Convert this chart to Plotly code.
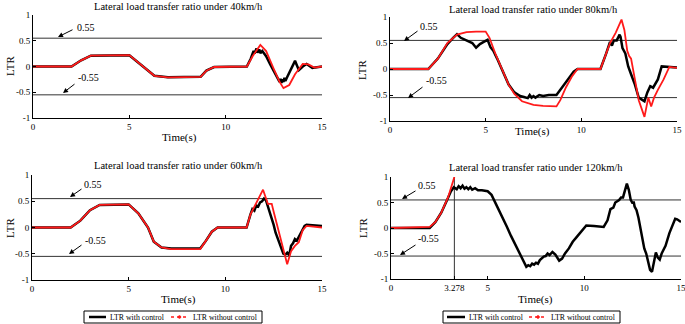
import plotly.graph_objects as go

# ---------------- data ----------------
t_red_40 = [0, 2.0, 2.5, 3.0, 5.0, 5.7, 6.3, 7.0, 8.7, 9.0, 9.4, 11.1, 11.4, 11.8, 12.1, 12.5, 12.8, 13.0, 13.3, 13.6, 14.0, 14.3, 14.6, 15]
v_red_40 = [0, 0, 0.12, 0.21, 0.22, 0.0, -0.18, -0.21, -0.2, -0.08, -0.01, 0, 0.2, 0.42, 0.3, -0.05, -0.3, -0.42, -0.36, -0.15, 0.05, 0.04, -0.02, 0]
t_blk_40 = [0, 2.0, 2.5, 3.0, 5.0, 5.7, 6.3, 7.0, 8.7, 9.0, 9.4, 11.1, 11.3, 11.45, 11.5, 11.6, 11.65, 11.75, 11.8, 11.9, 12.0, 12.1, 12.3, 12.5, 12.7, 12.8, 12.85, 12.9, 12.95, 13.0, 13.05, 13.1, 13.2, 13.4, 13.6, 13.7, 13.8, 14.0, 14.2, 14.5, 15]
v_blk_40 = [0, 0, 0.12, 0.21, 0.22, 0.0, -0.18, -0.21, -0.2, -0.08, -0.01, 0, 0.15, 0.3, 0.25, 0.35, 0.27, 0.33, 0.26, 0.3, 0.24, 0.2, 0.05, -0.1, -0.22, -0.3, -0.24, -0.32, -0.25, -0.3, -0.22, -0.28, -0.2, -0.05, 0.11, 0.02, -0.07, 0.0, 0.05, -0.03, 0]

t_red_80 = [0, 2.0, 2.5, 3.0, 3.5, 4.0, 4.5, 5.0, 5.2, 5.5, 5.85, 6.2, 6.5, 6.9, 7.5, 8.0, 8.7, 8.9, 9.2, 9.5, 9.8, 11.0, 11.3, 11.5, 11.8, 12.1, 12.25, 12.4, 12.5, 12.6, 12.8, 13.0, 13.3, 13.5, 13.65, 13.8, 14.0, 14.3, 14.6, 15]
v_red_80 = [0, 0, 0.2, 0.5, 0.66, 0.71, 0.72, 0.72, 0.6, 0.3, 0.0, -0.3, -0.48, -0.62, -0.69, -0.71, -0.72, -0.6, -0.35, -0.15, 0.0, 0.0, 0.3, 0.5, 0.7, 0.95, 0.75, 0.35, 0.25, 0.2, -0.2, -0.6, -0.92, -0.55, -0.72, -0.55, -0.4, -0.2, 0.04, 0.02]
t_blk_80 = [0, 2.0, 2.5, 3.0, 3.3, 3.5, 3.7, 4.0, 4.3, 4.5, 4.7, 4.9, 5.1, 5.25, 5.4, 5.6, 5.85, 6.2, 6.5, 6.8, 7.0, 7.2, 7.3, 7.4, 7.5, 7.6, 7.8, 8.0, 8.3, 8.7, 9.0, 9.3, 9.6, 9.8, 11.0, 11.3, 11.5, 11.6, 11.7, 11.85, 12.0, 12.05, 12.15, 12.3, 12.45, 12.6, 12.8, 13.0, 13.3, 13.45, 13.6, 13.75, 13.85, 14.0, 14.2, 15]
v_blk_80 = [0, 0, 0.2, 0.48, 0.6, 0.67, 0.6, 0.55, 0.5, 0.41, 0.48, 0.52, 0.56, 0.42, 0.35, 0.2, 0.0, -0.3, -0.45, -0.52, -0.54, -0.56, -0.5, -0.55, -0.52, -0.55, -0.5, -0.52, -0.5, -0.5, -0.35, -0.2, -0.05, 0.0, 0.0, 0.3, 0.52, 0.45, 0.55, 0.55, 0.66, 0.62, 0.4, 0.3, 0.05, -0.1, -0.3, -0.55, -0.62, -0.45, -0.33, -0.36, -0.3, -0.2, 0.05, 0.03]

t_red_60 = [0, 2.0, 2.5, 3.0, 3.5, 5.0, 5.5, 6.0, 6.3, 6.7, 7.2, 8.7, 9.0, 9.3, 9.6, 11.1, 11.3, 11.5, 11.7, 11.95, 12.2, 12.4, 12.5, 12.7, 13.0, 13.2, 13.4, 13.6, 13.8, 14.0, 14.2, 15]
v_red_60 = [0, 0, 0.13, 0.33, 0.43, 0.44, 0.27, 0.0, -0.27, -0.38, -0.41, -0.41, -0.25, -0.08, 0.0, 0, 0.25, 0.4, 0.52, 0.72, 0.45, 0.45, 0.3, 0.0, -0.45, -0.7, -0.45, -0.35, -0.28, -0.05, 0.03, 0.0]
t_blk_60 = [0, 2.0, 2.5, 3.0, 3.5, 5.0, 5.5, 6.0, 6.3, 6.7, 7.2, 8.7, 9.0, 9.3, 9.6, 11.1, 11.3, 11.4, 11.5, 11.6, 11.7, 11.8, 11.9, 12.0, 12.1, 12.2, 12.35, 12.5, 12.6, 12.8, 13.0, 13.1, 13.2, 13.3, 13.4, 13.5, 13.6, 13.7, 13.9, 14.1, 14.2, 15]
v_blk_60 = [0, 0, 0.13, 0.33, 0.43, 0.44, 0.27, 0.0, -0.27, -0.38, -0.4, -0.4, -0.25, -0.08, 0.0, 0, 0.25, 0.35, 0.32, 0.42, 0.4, 0.48, 0.5, 0.55, 0.52, 0.4, 0.25, 0.05, -0.1, -0.3, -0.5, -0.52, -0.48, -0.53, -0.35, -0.3, -0.22, -0.25, -0.1, 0.03, 0.05, 0.03]

t_red_120 = [0, 2.0, 2.3, 2.6, 2.95, 3.278]
v_red_120 = [0, 0.02, 0.12, 0.3, 0.6, 1.0]
t_blk_120 = [0, 2.0, 2.3, 2.6, 2.9, 3.1, 3.25, 3.4, 3.5, 3.6, 3.7, 3.8, 3.9, 4.0, 4.1, 4.2, 4.35, 4.5, 4.7, 5.0, 5.2, 5.4, 5.6, 5.8, 6.0, 6.2, 6.4, 6.6, 6.8, 6.9, 7.0, 7.1, 7.2, 7.3, 7.4, 7.5, 7.6, 7.7, 7.8, 7.9, 8.0, 8.1, 8.2, 8.35, 8.5, 8.7, 8.85, 9.0, 9.2, 9.4, 9.6, 9.8, 10.0, 10.1, 10.5, 11.0, 11.2, 11.35, 11.5, 11.6, 11.8, 11.9, 12.0, 12.2, 12.3, 12.4, 12.5, 12.55, 12.6, 12.7, 12.8, 12.9, 13.0, 13.1, 13.2, 13.3, 13.4, 13.5, 13.6, 13.7, 13.8, 13.9, 14.0, 14.2, 14.4, 14.6, 14.7, 14.8, 15]
v_blk_120 = [0, 0, 0.12, 0.3, 0.55, 0.72, 0.8, 0.76, 0.82, 0.78, 0.83, 0.77, 0.8, 0.76, 0.8, 0.75, 0.78, 0.74, 0.74, 0.72, 0.65, 0.5, 0.35, 0.2, 0.02, -0.15, -0.3, -0.45, -0.6, -0.7, -0.76, -0.73, -0.75, -0.7, -0.72, -0.68, -0.7, -0.63, -0.6, -0.56, -0.55, -0.5, -0.53, -0.47, -0.52, -0.64, -0.6, -0.5, -0.4, -0.27, -0.18, -0.08, 0.02, 0.05, 0.04, 0.02, 0.15, 0.37, 0.4, 0.5, 0.55, 0.6, 0.6, 0.87, 0.75, 0.55, 0.48, 0.52, 0.42, 0.35, 0.2, 0.0, -0.2, -0.4, -0.5, -0.65, -0.82, -0.86, -0.7, -0.48, -0.58, -0.62, -0.5, -0.35, -0.1, 0.1, 0.18, 0.17, 0.12, 0.0]

titles = ["Lateral load transfer ratio under 40km/h", "Lateral load transfer ratio under 80km/h",
          "Lateral load transfer ratio under 60km/h", "Lateral load transfer ratio under 120km/h"]
legend_names = ["LTR with control", "LTR without control"]
threshold = 0.55
threshold_labels = ["0.55", "-0.55"]
ytick_vals = [-1, -0.5, 0, 0.5, 1]
ytick_text = ["-1", "-0.5", "0", "0.5", "1"]
xtick_vals = [0, 5, 10, 15]
xtick_vals_120 = [0, 3.278, 5, 10, 15]
xtick_text_120 = ["0", "3.278", "5", "10", "15"]
t_crit = 3.278

W, H = 685, 324
FONT = "Liberation Serif"
BLACK = "black"
RED = "#ff1a1a"

def px(x):
    return x / W

def py(y):
    return 1 - y / H

# layout (pixel positions): domains, titles, labels, arrows (text center, tail, head)
panels = [
    dict(blk=(t_blk_40, v_blk_40), red=(t_red_40, v_red_40), dx=(33, 322), dy=(15, 118), title=(178, 7), xlab=(179, 137), ylab=(10, 66),
         arrows=[((86, 28), (74, 29), (58, 37)), ((88, 78), (76, 83), (63, 93))]),
    dict(blk=(t_blk_80, v_blk_80), red=(t_red_80, v_red_80), dx=(390, 677), dy=(17, 121), title=(533, 9), xlab=(532, 131), ylab=(362, 70),
         arrows=[((429, 26), (419, 30), (404, 41)), ((436, 80), (424, 86), (408, 98))]),
    dict(blk=(t_blk_60, v_blk_60), red=(t_red_60, v_red_60), dx=(32, 322), dy=(175, 280), title=(178, 165), xlab=(178, 299), ylab=(10, 228),
         arrows=[((93, 184), (83, 188), (70, 197)), ((95, 240), (83, 244), (69, 254))]),
    dict(blk=(t_blk_120, v_blk_120), red=(t_red_120, v_red_120), dx=(391, 681), dy=(177, 279), title=(536, 167), xlab=(535, 299), ylab=(363, 228),
         arrows=[((427, 185), (417, 190), (402, 199)), ((428, 239), (417, 244), (400, 255))]),
]

fig = go.Figure()
annotations = []
shapes = []
layout = {}
for i, p in enumerate(panels):
    n = "" if i == 0 else str(i + 1)
    xa, ya = "x" + n, "y" + n
    for s in (1, -1):
        fig.add_trace(go.Scatter(x=[0, 15], y=[s * threshold, s * threshold], mode="lines",
                                 line=dict(color="#333333", width=1), xaxis=xa, yaxis=ya,
                                 showlegend=False, hoverinfo="skip"))
    if i == 3:
        fig.add_trace(go.Scatter(x=[t_crit, t_crit], y=[-1, 1], mode="lines",
                                 line=dict(color="#333333", width=1), xaxis=xa, yaxis=ya,
                                 showlegend=False, hoverinfo="skip"))
    fig.add_trace(go.Scatter(x=p["blk"][0], y=p["blk"][1], mode="lines", line=dict(color=BLACK, width=2.5),
                             xaxis=xa, yaxis=ya, name=legend_names[0], showlegend=False))
    fig.add_trace(go.Scatter(x=p["red"][0], y=p["red"][1], mode="lines", line=dict(color=RED, width=1.8),
                             xaxis=xa, yaxis=ya, name=legend_names[1], showlegend=False))
    xkw = dict(range=[0, 15], domain=[px(p["dx"][0]), px(p["dx"][1])], anchor=ya, automargin=False,
               showline=True, linecolor="black", linewidth=1, ticks="inside", ticklen=3, tickcolor="black",
               showgrid=False, zeroline=False, ticklabeloverflow="allow",
               tickfont=dict(family=FONT, size=9, color="black"))
    if i == 3:
        xkw.update(tickvals=xtick_vals_120, ticktext=xtick_text_120)
    else:
        xkw.update(tickvals=xtick_vals, ticktext=[str(v) for v in xtick_vals])
    ykw = dict(range=[-1, 1], domain=[py(p["dy"][1]), py(p["dy"][0])], anchor=xa, automargin=False,
               showline=True, linecolor="black", linewidth=1, ticks="inside", ticklen=3, tickcolor="black",
               showgrid=False, zeroline=False, tickvals=ytick_vals, ticktext=ytick_text,
               tickfont=dict(family=FONT, size=9, color="black"))
    layout["xaxis" + n] = xkw
    layout["yaxis" + n] = ykw
    annotations.append(dict(x=px(p["title"][0]), y=py(p["title"][1]), xref="paper", yref="paper",
                            xanchor="center", yanchor="middle",
                            text=titles[i], showarrow=False, font=dict(family=FONT, size=10.5, color="black")))
    annotations.append(dict(x=px(p["xlab"][0]), y=py(p["xlab"][1]), xref="paper", yref="paper",
                            xanchor="center", yanchor="middle",
                            text="Time(s)", showarrow=False, font=dict(family=FONT, size=11, color="black")))
    annotations.append(dict(x=px(p["ylab"][0]), y=py(p["ylab"][1]), xref="paper", yref="paper", textangle=-90,
                            xanchor="center", yanchor="middle",
                            text="LTR", showarrow=False, font=dict(family=FONT, size=11, color="black")))
    for label, (txt, tail, head) in zip(threshold_labels, p["arrows"]):
        annotations.append(dict(x=px(txt[0]), y=py(txt[1]), xref="paper", yref="paper", text=label,
                                xanchor="center", yanchor="middle", showarrow=False,
                                font=dict(family=FONT, size=10, color="black")))
        annotations.append(dict(x=px(head[0]), y=py(head[1]), xref="paper", yref="paper", text="",
                                showarrow=True, arrowhead=2, arrowsize=1, arrowwidth=1, arrowcolor="black",
                                ax=tail[0] - head[0], ay=tail[1] - head[1], standoff=0, startstandoff=0))

# legend boxes below each column (pixel positions)
legend_boxes = [
    dict(box=(84, 311, 262, 323), s1=(89, 106), t1=109, s2=(171, 188), t2=192),
    dict(box=(443, 311, 620, 323), s1=(447, 465), t1=468, s2=(529, 547), t2=550),
]
for lb in legend_boxes:
    x0, y0, x1, y1 = lb["box"]
    ym = (y0 + y1) / 2
    shapes.append(dict(type="rect", xref="paper", yref="paper", x0=px(x0), x1=px(x1), y0=py(y1), y1=py(y0),
                       line=dict(color="black", width=1), fillcolor="white", layer="above"))
    shapes.append(dict(type="line", xref="paper", yref="paper", x0=px(lb["s1"][0]), x1=px(lb["s1"][1]),
                       y0=py(ym), y1=py(ym), line=dict(color=BLACK, width=2.5)))
    shapes.append(dict(type="line", xref="paper", yref="paper", x0=px(lb["s2"][0]), x1=px(lb["s2"][1]),
                       y0=py(ym), y1=py(ym), line=dict(color=RED, width=1.3, dash="dot")))
    cx = (lb["s2"][0] + lb["s2"][1]) / 2
    shapes.append(dict(type="circle", xref="paper", yref="paper", x0=px(cx - 1.3), x1=px(cx + 1.3),
                       y0=py(ym + 1.3), y1=py(ym - 1.3), line=dict(color=RED, width=1), fillcolor=RED))
    annotations.append(dict(x=px(lb["t1"]), y=py(ym), xref="paper", yref="paper", text=legend_names[0],
                            xanchor="left", yanchor="middle", showarrow=False, borderpad=0,
                            font=dict(family=FONT, size=7.8, color="black")))
    annotations.append(dict(x=px(lb["t2"]), y=py(ym), xref="paper", yref="paper", text=legend_names[1],
                            xanchor="left", yanchor="middle", showarrow=False, borderpad=0,
                            font=dict(family=FONT, size=7.8, color="black")))

fig.update_layout(
    template="none",
    width=W, height=H, margin=dict(l=0, r=0, t=0, b=0, autoexpand=False),
    paper_bgcolor="white", plot_bgcolor="white",
    showlegend=False,
    annotations=annotations,
    shapes=shapes,
    **layout,
)
fig.write_html("out.html", config={"displayModeBar": False},
               post_script="document.body.style.margin='0';document.body.style.padding='0';")
